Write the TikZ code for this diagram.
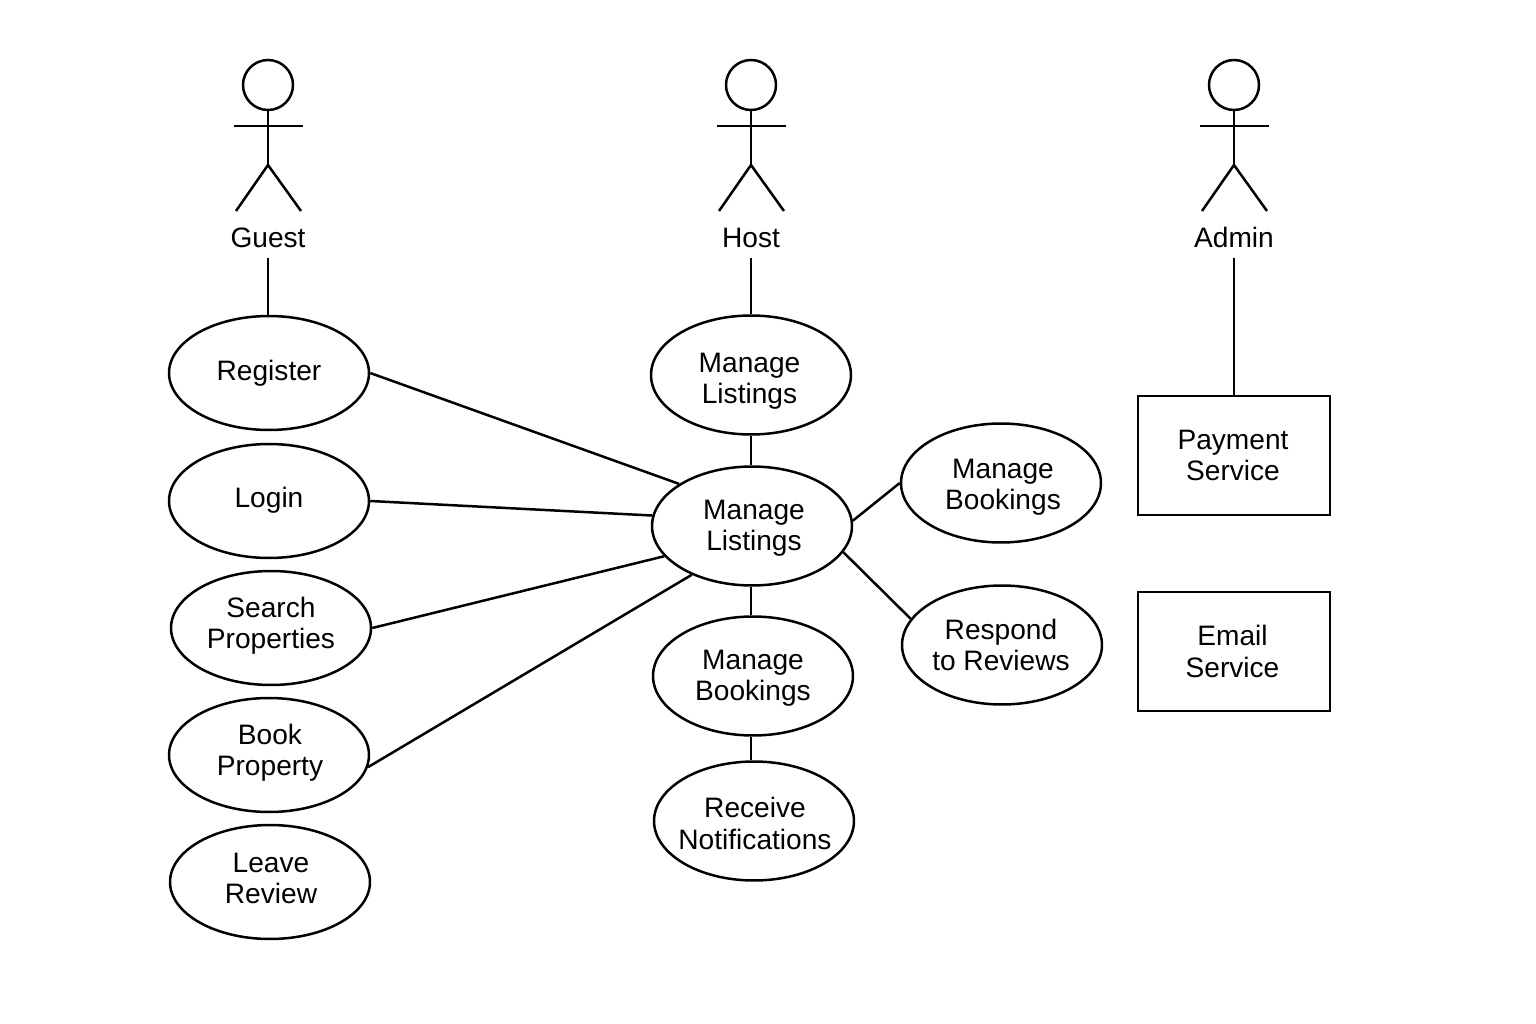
\documentclass[tikz,border=0pt]{standalone}
\usepackage{fontspec}
\setmainfont{Liberation Sans}
\usetikzlibrary{shapes.geometric}
\tikzset{
	usecase/.style={draw, ellipse, inner sep=0pt, minimum width=4cm, minimum height=2.28cm},
	hostcase/.style={usecase, minimum height=2.38cm},
	service/.style={draw, rectangle, inner sep=0pt, minimum width=3.84cm, minimum height=2.38cm},
	head/.style={draw, circle, inner sep=0pt, minimum size=1cm},
	actorname/.style={anchor=base, inner sep=0pt, text depth=0.2cm},
	every label/.style={align=center, inner sep=0pt}
}
\begin{document}
\begin{tikzpicture}[x=0.02cm, y=-0.02cm, line width=0.05cm, font=\fontsize{16}{17.8}\selectfont]
	\useasboundingbox (0,0) rectangle (1536,1024);
	% --- Actors ---
	\foreach \p/\cx/\name in {guest/268/Guest, host/751/Host, admin/1234/Admin}{
		\node[head] (\p) at (\cx,85) {};
		\node[actorname] (\p name) at (\cx,247) {\name};
		\draw (\p.south) -- (\cx,165) coordinate (\p hip);
		\draw (\cx-34,126) -- (\cx+35,126);
		\draw (\cx-32,211) -- (\p hip) -- (\cx+33,211);
	}
	% --- Use cases of the guest ---
	\foreach \p/\cx/\cy/\tx/\ty/\txt in {register/269/373/0/0/Register, login/269/501/0/-1/Login,
		search/271/628/0/-2/Search\\Properties, book/269/755/1/-2/Book\\Property, leave/270/882/1/-3.5/Leave\\Review}
	\node[usecase, label={[xshift=\tx*0.02cm, yshift=-\ty*0.02cm]center:\txt}] (\p) at (\cx,\cy) {};
	% --- Use cases of the host ---
	\foreach \p/\cx/\cy/\tx/\ty/\txt in {listings/751/375/-1.5/6/Manage\\Listings, hub/752/526/2/2.5/Manage\\Listings,
		bookings/753/676/0/2.5/Manage\\Bookings, notify/754/821/1/2.5/Receive\\Notifications,
		hostbook/1001/483/2/4/Manage\\Bookings, respond/1002/645/-1/0/Respond\\to Reviews}
	\node[hostcase, label={[xshift=\tx*0.02cm, yshift=-\ty*0.02cm]center:\txt}] (\p) at (\cx,\cy) {};
	% --- Services ---
	\node[service, label={[xshift=-0.02cm]center:Payment\\Service}] (payment) at (1234,455.5) {};
	\node[service, label={[xshift=-0.03cm]center:Email\\Service}] (email) at (1234,651.5) {};
	% --- Connectors ---
	\draw (guestname.south) -- (guestname.south |- register.north);
	\draw (hostname.south) -- (listings.north);
	\draw (adminname.south) -- (payment.north);
	\draw (listings.south) -- (listings.south |- hub.north);
	\draw (listings.south |- hub.south) -- (listings.south |- bookings.north);
	\draw (listings.south |- bookings.south) -- (listings.south |- notify.north);
	\draw (register.east) -- (hub.150);
	\draw (login.east) -- (hub.174);
	\draw (search.east) -- (hub.199);
	\draw (book.-7) -- (hub.219);
	\draw (hub.3) -- (hostbook.west);
	\draw (hub.-16) -- (respond.164);
\end{tikzpicture}
\end{document}
